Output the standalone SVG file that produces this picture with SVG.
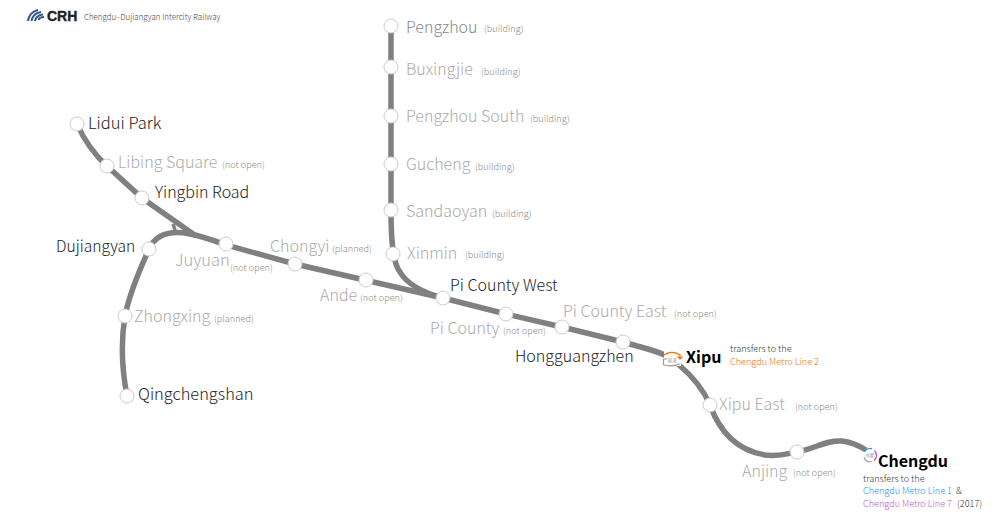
<svg xmlns="http://www.w3.org/2000/svg" width="1000" height="518" viewBox="0 0 1000 518">
<style>
text{font-family:"Noto Sans CJK SC Light","Noto Sans CJK SC","Noto Sans",sans-serif;font-weight:300}
.l{fill:none;stroke:#808080;stroke-width:5.5}
.s{fill:#fff;stroke:#ccc;stroke-width:1}
.a{font-size:16px;fill:#aaa}
.b{font-size:16px;fill:#222}
.g{font-size:9.100px;fill:#888}
.t{font-size:9.100px;fill:#333}
.h{font-size:16px;fill:#000;font-weight:700;font-family:"Noto Sans CJK SC",sans-serif}
.i{fill:none;stroke-width:1.200}
.c{font-size:4.500px;fill:#777;text-anchor:middle}
</style>
<rect width="1000" height="518" fill="#fff"/>
<g id="logo">
<path d="M28 21C28.500 15 33 11 38 10M31.500 21C32 17 35 13 41 12M35 21C35.500 18 38 15 43 14.500M38.500 20C39 18 41 17 44 17" fill="none" stroke="#34568c" stroke-width="2"/>
<text x="47" y="21" style="font-size:14px;font-weight:900;fill:#222;font-family:'Liberation Sans',sans-serif;stroke:#222;stroke-width:.4">CRH</text>
<text x="84" y="20" style="font-size:7.900px;fill:#444">Chengdu–Dujiangyan Intercity Railway</text>
</g>
<g id="connectors">
<path class="l" d="M77 124C85 142 95 155 107 166L142 198L196 236"/>
<path class="l" d="M391 26V210C391 235 392 262 400 272C408 286 425 293 443 298"/>
<path class="l" d="M127 396C122 370 121 340 125 316C130 290 142 265 149 249C156 234 170 230 190 234C205 237 215 241 226 245L295 264L443 298L506 314L562 327L623 342C650 350 665 352 678 364C697 380 705 393 710 405C719 430 735 450 765 455C780 457 790 453 797 452C815 449 825 440 842 441C852 442 858 445 866 450"/>
<path d="M176 233L173 224" fill="none" stroke="#808080" stroke-width="3.500"/>
</g>
<g id="lidui-park"><circle class="s" cx="77" cy="124" r="7"/><text class="b" x="88" y="129" style="font-size:16.500px">Lidui Park</text></g>
<g id="libing-square"><circle class="s" cx="107" cy="166" r="7"/><text class="a" x="118" y="168">Libing Square</text><text class="g" x="222" y="168">(not open)</text></g>
<g id="yingbin-road"><circle class="s" cx="142" cy="198" r="7"/><text class="b" x="155" y="198">Yingbin Road</text></g>
<g id="dujiangyan"><circle class="s" cx="149" cy="249" r="7"/><text class="b" x="56" y="252" style="font-size:15.600px">Dujiangyan</text></g>
<g id="zhongxing"><circle class="s" cx="125" cy="316" r="7"/><text class="a" x="134" y="322">Zhongxing</text><text class="g" x="214" y="322">(planned)</text></g>
<g id="qingchengshan"><circle class="s" cx="127" cy="396" r="7"/><text class="b" x="138" y="400" style="font-size:16.400px">Qingchengshan</text></g>
<g id="juyuan"><circle class="s" cx="226" cy="244" r="7"/><text class="a" x="175" y="266" style="font-size:16.500px">Juyuan</text><text class="g" x="230" y="271">(not open)</text></g>
<g id="chongyi"><circle class="s" cx="295" cy="264" r="7"/><text class="a" x="270" y="252">Chongyi</text><text class="g" x="332" y="252">(planned)</text></g>
<g id="ande"><circle class="s" cx="366" cy="280" r="7"/><text class="a" x="320" y="301">Ande</text><text class="g" x="360" y="301">(not open)</text></g>
<g id="pengzhou"><circle class="s" cx="391" cy="26" r="7"/><text class="a" x="406" y="33" style="fill:#888">Pengzhou</text><text class="g" x="484" y="32">(building)</text></g>
<g id="buxingjie"><circle class="s" cx="391" cy="67" r="7"/><text class="a" x="406" y="75">Buxingjie</text><text class="g" x="481" y="75">(building)</text></g>
<g id="pengzhou-south"><circle class="s" cx="391" cy="116" r="7"/><text class="a" x="406" y="122">Pengzhou South</text><text class="g" x="530" y="122">(building)</text></g>
<g id="gucheng"><circle class="s" cx="391" cy="164" r="7"/><text class="a" x="406" y="170">Gucheng</text><text class="g" x="475" y="170">(building)</text></g>
<g id="sandaoyan"><circle class="s" cx="391" cy="210" r="7"/><text class="a" x="406" y="217">Sandaoyan</text><text class="g" x="492" y="217">(building)</text></g>
<g id="xinmin"><circle class="s" cx="393" cy="254" r="7"/><text class="a" x="407" y="259">Xinmin</text><text class="g" x="465" y="258">(building)</text></g>
<g id="pi-county-west"><circle class="s" cx="443" cy="298" r="7"/><text class="b" x="450" y="291">Pi County West</text></g>
<g id="pi-county"><circle class="s" cx="506" cy="314" r="7"/><text class="a" x="430" y="334">Pi County</text><text class="g" x="503" y="334">(not open)</text></g>
<g id="pi-county-east"><circle class="s" cx="562" cy="327" r="7"/><text class="a" x="563" y="317">Pi County East</text><text class="g" x="674" y="317">(not open)</text></g>
<g id="hongguangzhen"><circle class="s" cx="623" cy="342" r="7"/><text class="b" x="515" y="362">Hongguangzhen</text></g>
<g id="xipu"><path d="M664 352H681V366H664Z" fill="#fff"/><path class="i" d="M664 355C668 352 675 351 680 355M680 359V354M677.500 356.500L680 359L682.500 356.500" stroke="#f07000"/><path class="i" d="M663.500 359V365M663.500 359H667M663.500 365C668 366 675 366 680 364" stroke="#999"/><text class="c" x="672" y="362">犀浦</text><text class="h" x="686" y="363">Xipu</text><text class="t" x="730" y="352">transfers to the</text><text class="t" x="730" y="365" style="fill:#f07000">Chengdu Metro Line 2</text></g>
<g id="xipu-east"><circle class="s" cx="710" cy="405" r="7"/><text class="a" x="719" y="410">Xipu East</text><text class="g" x="795" y="410">(not open)</text></g>
<g id="anjing"><circle class="s" cx="797" cy="452" r="7"/><text class="a" x="742" y="477">Anjing</text><text class="g" x="793" y="476">(not open)</text></g>
<g id="chengdu"><circle cx="870" cy="455" r="6.500" fill="#fff"/><path class="i" d="M864.500 452C866 449.500 869 448 872 448.800" stroke="#2090f0"/><path class="i" d="M874.500 450.500C877.500 454 877 458 874 460.500" stroke="#c050d0"/><path class="i" d="M872 461.500C868 462.500 865 461 864 457" stroke="#aaa"/><text class="c" x="870" y="457">成都</text><text class="h" x="878" y="467">Chengdu</text><text class="t" x="863" y="482">transfers to the</text><text class="t" x="863" y="494" style="fill:#2090f0">Chengdu Metro Line 1</text><text class="t" x="956" y="494">&amp;</text><text class="t" x="863" y="507" style="fill:#c050d0">Chengdu Metro Line 7</text><text class="t" x="957" y="507">(2017)</text></g>
</svg>
